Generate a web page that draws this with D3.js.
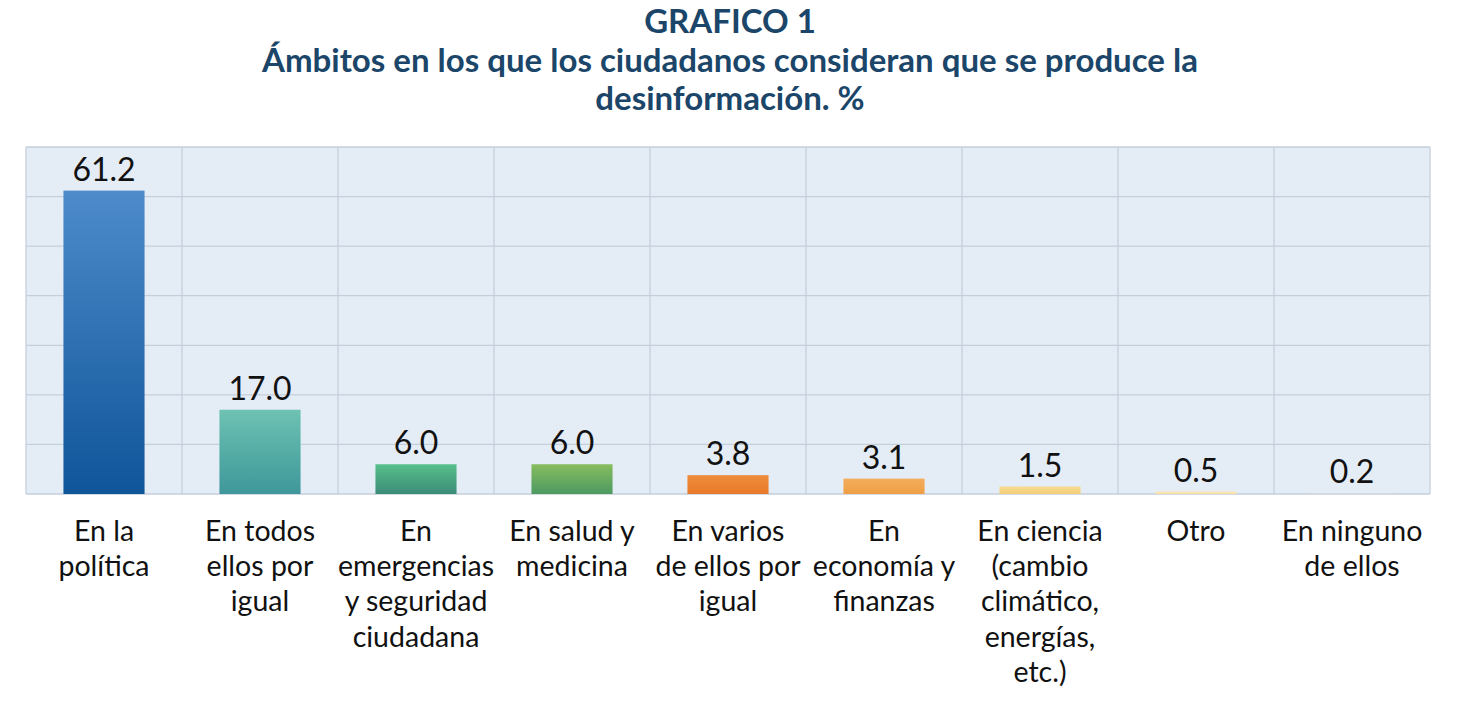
<!DOCTYPE html>
<html>
<head>
<meta charset="utf-8">
<script src="https://cdn.jsdelivr.net/npm/d3@7"></script>
<style>
  html, body { margin: 0; padding: 0; background: #ffffff; }
  svg { display: block; }
</style>
</head>
<body>
<svg id="chart" width="1465" height="720"></svg>
<script>
// ---- Data ----
const categories = [
  ["En la", "política"],
  ["En todos", "ellos por", "igual"],
  ["En", "emergencias", "y seguridad", "ciudadana"],
  ["En salud y", "medicina"],
  ["En varios", "de ellos por", "igual"],
  ["En", "economía y", "finanzas"],
  ["En ciencia", "(cambio", "climático,", "energías,", "etc.)"],
  ["Otro"],
  ["En ninguno", "de ellos"]
];
const values = [61.2, 17.0, 6.0, 6.0, 3.8, 3.1, 1.5, 0.5, 0.2];
const valueLabels = ["61.2", "17.0", "6.0", "6.0", "3.8", "3.1", "1.5", "0.5", "0.2"];
const yTicks = [0, 10, 20, 30, 40, 50, 60, 70];
const barColorsTop = ["#4d8bcb", "#6dc2b2", "#58bf8a", "#88bc5e", "#ef8c3c", "#f3ad5c", "#f7db90", "#f9e8b6", "#dadfe9"];
const barColorsBottom = ["#0f5599", "#3e979a", "#3b8c78", "#4c9a62", "#e77a28", "#ef9e44", "#f3cf78", "#f5e0a4", "#cfd5e2"];
const titleLines = ["GRAFICO 1", "Ámbitos en los que los ciudadanos consideran que se produce la", "desinformación. %"];

// ---- Layout ----
const svg = d3.select("#chart");
const plot = { left: 26, right: 1430, top: 147, bottom: 494 };

const x = d3.scaleBand()
  .domain(d3.range(categories.length))
  .range([plot.left, plot.right])
  .paddingInner(0.48)
  .paddingOuter(0.24);
const xCell = d3.scaleBand()
  .domain(d3.range(categories.length))
  .range([plot.left, plot.right]);
const y = d3.scaleLinear().domain([0, 70]).range([plot.bottom, plot.top]);

// gradients
const defs = svg.append("defs");
values.forEach((v, i) => {
  const g = defs.append("linearGradient")
    .attr("id", "grad" + i)
    .attr("x1", 0).attr("y1", 0).attr("x2", 0).attr("y2", 1);
  g.append("stop").attr("offset", "0%").attr("stop-color", barColorsTop[i]);
  g.append("stop").attr("offset", "100%").attr("stop-color", barColorsBottom[i]);
});

// plot background
svg.append("rect")
  .attr("x", plot.left).attr("y", plot.top)
  .attr("width", plot.right - plot.left).attr("height", plot.bottom - plot.top)
  .attr("fill", "#e4ecf6");

// horizontal grid
svg.append("g")
  .selectAll("line")
  .data(yTicks)
  .join("line")
  .attr("x1", plot.left).attr("x2", plot.right)
  .attr("y1", d => y(d)).attr("y2", d => y(d))
  .attr("stroke", "#c5cfdb").attr("stroke-width", 1.3);

// vertical grid (category boundaries)
const bounds = d3.range(categories.length + 1).map(i => i < categories.length ? xCell(i) : plot.right);
svg.append("g")
  .selectAll("line")
  .data(bounds)
  .join("line")
  .attr("x1", d => d).attr("x2", d => d)
  .attr("y1", plot.top).attr("y2", plot.bottom)
  .attr("stroke", "#c5cfdb").attr("stroke-width", 1.3);

// bars
svg.append("g")
  .selectAll("rect")
  .data(values)
  .join("rect")
  .attr("x", (d, i) => x(i))
  .attr("width", x.bandwidth())
  .attr("y", d => y(d))
  .attr("height", d => Math.max(1, plot.bottom - y(d)))
  .attr("fill", (d, i) => `url(#grad${i})`);

// value labels
svg.append("g")
  .selectAll("text")
  .data(values)
  .join("text")
  .attr("x", (d, i) => x(i) + x.bandwidth() / 2)
  .attr("y", d => y(d) - 10)
  .attr("text-anchor", "middle")
  .attr("font-family", "Lato, sans-serif")
  .attr("font-size", 32)
  .attr("fill", "#111111")
  .text((d, i) => valueLabels[i]);

// category labels
const catG = svg.append("g");
categories.forEach((lines, i) => {
  const t = catG.append("text")
    .attr("x", xCell(i) + xCell.bandwidth() / 2)
    .attr("y", 541)
    .attr("text-anchor", "middle")
    .attr("font-family", "Lato, sans-serif")
    .attr("font-size", 28.5)
    .attr("fill", "#111111");
  lines.forEach((l, j) => {
    t.append("tspan")
      .attr("x", xCell(i) + xCell.bandwidth() / 2)
      .attr("y", 541 + j * 35.2)
      .text(l);
  });
});

// title
const cx = 730;
svg.append("g")
  .selectAll("text")
  .data(titleLines)
  .join("text")
  .attr("x", cx)
  .attr("y", (d, i) => [33, 72, 110][i])
  .attr("text-anchor", "middle")
  .attr("font-family", "Lato, sans-serif")
  .attr("font-weight", "bold")
  .attr("font-size", 33)
  .attr("fill", "#1b4669")
  .text(d => d);
</script>
</body>
</html>
